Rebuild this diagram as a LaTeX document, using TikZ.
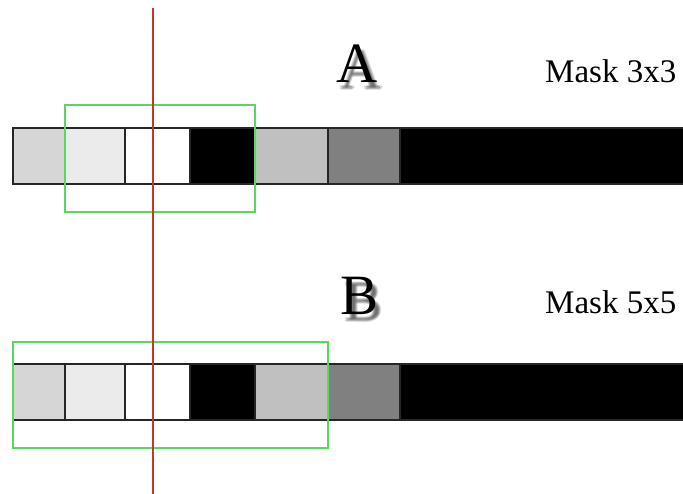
\documentclass[tikz,border=0pt]{standalone}
\usepackage{fontspec}
\setmainfont{Liberation Serif}
\definecolor{cA}{HTML}{D6D6D6}
\definecolor{cB}{HTML}{EBEBEB}
\definecolor{cC}{HTML}{C0C0C0}
\definecolor{cD}{HTML}{808080}
\definecolor{maskgreen}{HTML}{5CD65C}
\definecolor{redline}{HTML}{C0392B}
\begin{document}
\begin{tikzpicture}[x=1pt,y=-1pt,
  cell/.style={draw=black!85,line width=1.3pt,minimum height=56pt,inner sep=0pt,outer sep=0pt},
  maskbox/.style={draw=maskgreen,line width=1.8pt,inner sep=0pt,minimum height=107pt},
  big/.style={font=\fontsize{57}{60}\selectfont,inner sep=0pt,anchor=base},
  lab/.style={font=\fontsize{33}{36}\selectfont,inner sep=0pt,anchor=base west},
  shadow/.style={big,text=black,opacity=0.11}]
\useasboundingbox (0,0) rectangle (683,494);
\foreach \r/\y in {a/156,b/392}{
  \node[cell,fill=cA,minimum width=52pt] (\r1) at (39,\y) {};
  \node[cell,fill=cB,minimum width=60pt] (\r2) at (95,\y) {};
  \node[cell,fill=white,minimum width=65pt] (\r3) at (157.5,\y) {};
  \node[cell,fill=black,minimum width=65pt] (\r4) at (222.5,\y) {};
  \node[cell,fill=cC,minimum width=73pt] (\r5) at (291.5,\y) {};
  \node[cell,fill=cD,minimum width=72pt] (\r6) at (364,\y) {};
  \node[cell,fill=black,minimum width=286pt] (\r7) at (543,\y) {};
}
% masks
\node[maskbox,minimum width=190pt] (maskA) at (160,158.5) {};
\node[maskbox,minimum width=315pt,minimum height=106pt] (maskB) at (170.5,395) {};
% red line
\coordinate (rtop) at (153,8);
\coordinate (rbot) at (153,494);
\draw[redline,line width=1.3pt] (rtop) -- (rbot);
% titles with soft shadow
\foreach \dx/\dy in {3/5,4/6,5/7,4/8,6/6,3/7,5/5}{
  \node[shadow] (sa\dx\dy) at (357+\dx,83+\dy) {A};
  \node[shadow] (sb\dx\dy) at (360+\dx,315+\dy) {B};
}
\node[big] (titleA) at (357,83) {A};
\node[big] (titleB) at (360,315) {B};
\node[lab] (labA) at (545,83) {Mask 3x3};
\node[lab] (labB) at (545,314) {Mask 5x5};
\end{tikzpicture}
\end{document}
